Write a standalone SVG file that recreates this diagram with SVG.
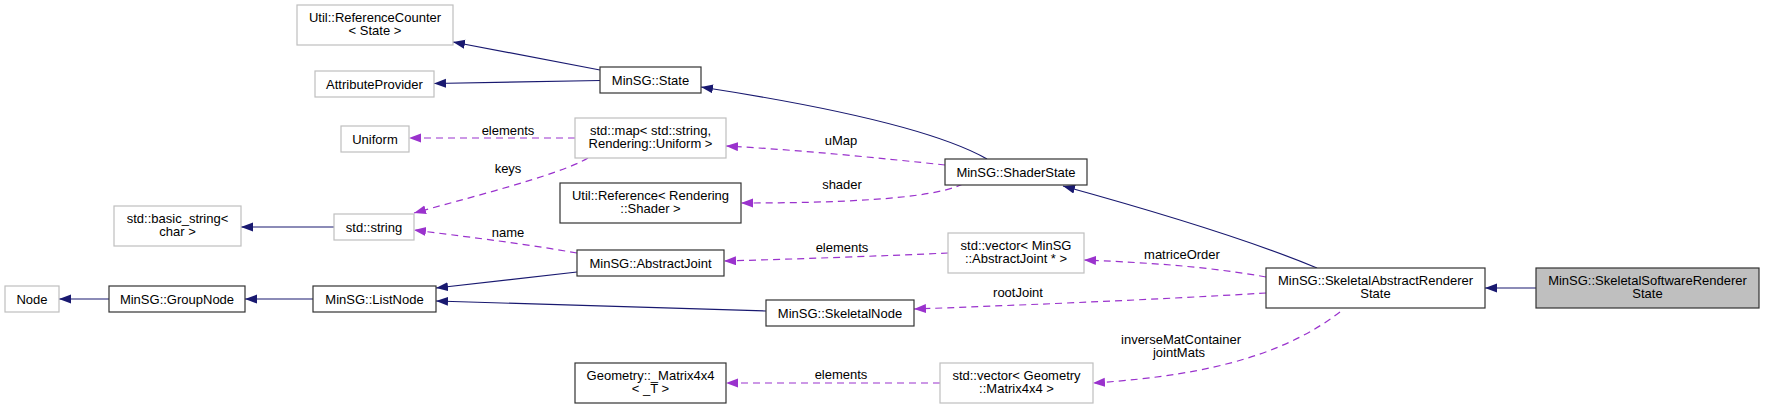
<svg xmlns="http://www.w3.org/2000/svg" width="1765" height="408" viewBox="0 0 1765 408">
<defs>
<style>
text{font-family:"Liberation Sans",Arial,sans-serif;font-size:13px;fill:#000;text-anchor:middle}
.doc{fill:#fff;stroke:#333;stroke-width:1.2}
.undoc{fill:#fff;stroke:#bfbfbf;stroke-width:1.2}
.cur{fill:#bfbfbf;stroke:#333;stroke-width:1.2}
.inh{fill:none;stroke:#191970;stroke-width:1.2;marker-end:url(#ah)}
.use{fill:none;stroke:#9a32cd;stroke-width:1.2;stroke-dasharray:7,5;marker-end:url(#au)}
</style>
<marker id="ah" markerUnits="userSpaceOnUse" markerWidth="13" markerHeight="10" refX="12" refY="4.5" orient="auto"><path d="M0,0 L12,4.5 L0,9 Z" fill="#191970"/></marker>
<marker id="au" markerUnits="userSpaceOnUse" markerWidth="13" markerHeight="10" refX="12" refY="4.5" orient="auto"><path d="M0,0 L12,4.5 L0,9 Z" fill="#9a32cd"/></marker>
</defs>
<rect width="1765" height="408" fill="#fff"/>
<g id="connectors">
<path class="inh" d="M600,70 L453,42"/>
<path class="inh" d="M600,80.5 L434,83.5"/>
<path class="inh" d="M987,159 C945,135 850,110 701,87"/>
<path class="inh" d="M1317,268 C1250,240 1150,210 1063,186"/>
<path class="inh" d="M1536,288 L1485,288"/>
<path class="inh" d="M109,299 L59,299"/>
<path class="inh" d="M313,299 L245,299"/>
<path class="inh" d="M334,227 L241,227"/>
<path class="inh" d="M577,272 L436,288"/>
<path class="inh" d="M766,311 L436,301"/>
<path class="use" d="M575,138 L409,138"/>
<text x="508" y="135">elements</text>
<path class="use" d="M588,158 C560,175 460,200 414,213"/>
<text x="508" y="173">keys</text>
<path class="use" d="M577,253 C520,243 460,236 414,230"/>
<text x="508" y="237">name</text>
<path class="use" d="M945,165 C880,158 800,150 726,146"/>
<text x="841" y="145">uMap</text>
<path class="use" d="M963,184 C930,200 830,203 741,203"/>
<text x="842" y="189">shader</text>
<path class="use" d="M948,253 C880,256 800,259 724,261"/>
<text x="842" y="252">elements</text>
<path class="use" d="M1266,277 C1200,265 1130,262 1084,260"/>
<text x="1182" y="259">matriceOrder</text>
<path class="use" d="M1266,293 C1150,300 1000,306 914,309"/>
<text x="1018" y="297">rootJoint</text>
<path class="use" d="M1340,312 C1290,350 1220,375 1093,383"/>
<text x="1181" y="344">inverseMatContainer</text>
<text x="1179" y="357">jointMats</text>
<path class="use" d="M940,383 L726,383"/>
<text x="841" y="379">elements</text>
</g>
<g id="refcounter"><rect class="undoc" x="297" y="5" width="156" height="40"/><text x="375" y="21.5">Util::ReferenceCounter</text><text x="375" y="35">&lt; State &gt;</text></g>
<g id="attrprov"><rect class="undoc" x="315" y="71" width="119" height="26"/><text x="374.5" y="88.5">AttributeProvider</text></g>
<g id="state"><rect class="doc" x="600" y="67" width="101" height="26"/><text x="650.5" y="84.5">MinSG::State</text></g>
<g id="uniform"><rect class="undoc" x="341" y="126" width="68" height="26"/><text x="375" y="143.5">Uniform</text></g>
<g id="stdmap"><rect class="undoc" x="575" y="118" width="151" height="40"/><text x="650.5" y="134.5">std::map&lt; std::string,</text><text x="650.5" y="148">Rendering::Uniform &gt;</text></g>
<g id="shaderstate"><rect class="doc" x="945" y="159" width="142" height="26"/><text x="1016" y="176.5">MinSG::ShaderState</text></g>
<g id="utilref"><rect class="doc" x="560" y="183" width="181" height="40"/><text x="650.5" y="199.5">Util::Reference&lt; Rendering</text><text x="650.5" y="213">::Shader &gt;</text></g>
<g id="basicstring"><rect class="undoc" x="114" y="206" width="127" height="40"/><text x="177.5" y="222.5">std::basic_string&lt;</text><text x="177.5" y="236">char &gt;</text></g>
<g id="stdstring"><rect class="undoc" x="334" y="214" width="80" height="26"/><text x="374" y="231.5">std::string</text></g>
<g id="abstractjoint"><rect class="doc" x="577" y="250" width="147" height="26"/><text x="650.5" y="267.5">MinSG::AbstractJoint</text></g>
<g id="vecjoint"><rect class="undoc" x="948" y="233" width="136" height="40"/><text x="1016" y="249.5">std::vector&lt; MinSG</text><text x="1016" y="263">::AbstractJoint * &gt;</text></g>
<g id="node"><rect class="undoc" x="5" y="286" width="54" height="26"/><text x="32" y="303.5">Node</text></g>
<g id="groupnode"><rect class="doc" x="109" y="286" width="136" height="26"/><text x="177" y="303.5">MinSG::GroupNode</text></g>
<g id="listnode"><rect class="doc" x="313" y="286" width="123" height="26"/><text x="374.5" y="303.5">MinSG::ListNode</text></g>
<g id="skeletalnode"><rect class="doc" x="766" y="300" width="148" height="26"/><text x="840" y="317.5">MinSG::SkeletalNode</text></g>
<g id="skelabs"><rect class="doc" x="1266" y="268" width="219" height="40"/><text x="1375.5" y="284.5">MinSG::SkeletalAbstractRenderer</text><text x="1375.5" y="298">State</text></g>
<g id="skelsoft"><rect class="cur" x="1536" y="268" width="223" height="40"/><text x="1647.5" y="284.5">MinSG::SkeletalSoftwareRenderer</text><text x="1647.5" y="298">State</text></g>
<g id="geommat"><rect class="doc" x="575" y="363" width="151" height="40"/><text x="650.5" y="379.5">Geometry::_Matrix4x4</text><text x="650.5" y="393">&lt; _T &gt;</text></g>
<g id="vecgeom"><rect class="undoc" x="940" y="363" width="153" height="40"/><text x="1016.5" y="379.5">std::vector&lt; Geometry</text><text x="1016.5" y="393">::Matrix4x4 &gt;</text></g>
</svg>
